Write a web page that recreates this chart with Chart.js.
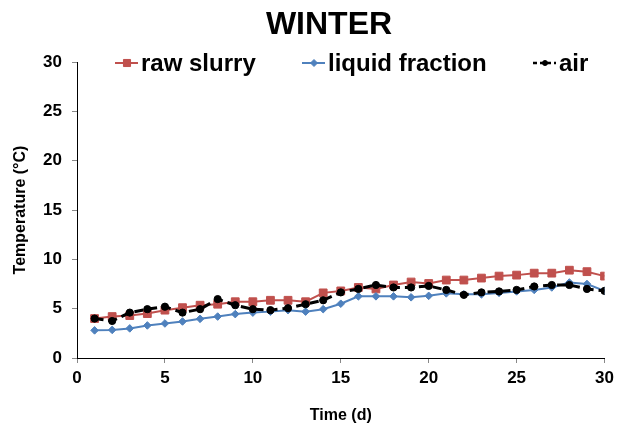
<!DOCTYPE html>
<html>
<head>
<meta charset="utf-8">
<script src="https://cdn.jsdelivr.net/npm/chart.js@4"></script>
<style>
  body { margin: 0; background: #fff; }
  #wrap { width: 619px; height: 425px; }
</style>
</head>
<body>
<div id="wrap"><canvas id="winterChart" width="619" height="425"></canvas></div>
<script>
// days 1..30
const days = [1,2,3,4,5,6,7,8,9,10,11,12,13,14,15,16,17,18,19,20,21,22,23,24,25,26,27,28,29,30];
const rawSlurry = [4.0,4.2,4.3,4.5,4.85,5.1,5.35,5.45,5.7,5.7,5.85,5.85,5.7,6.6,6.8,7.15,7.0,7.4,7.7,7.55,7.9,7.9,8.1,8.3,8.4,8.6,8.6,8.9,8.75,8.3];
const liquidFraction = [2.8,2.85,3.0,3.3,3.5,3.7,3.97,4.2,4.45,4.6,4.7,4.85,4.7,4.95,5.5,6.25,6.25,6.25,6.15,6.3,6.55,6.45,6.45,6.6,6.75,6.9,7.15,7.65,7.5,6.8];
const air = [4.0,3.75,4.6,4.95,5.2,4.6,4.95,5.97,5.35,4.95,4.85,5.05,5.45,5.85,6.65,7.0,7.4,7.15,7.15,7.3,6.9,6.4,6.65,6.75,6.9,7.25,7.4,7.4,7.0,6.8];
const seriesNames = ['raw slurry', 'liquid fraction', 'air'];
const xTicks = [0,5,10,15,20,25,30];
const yTicks = [0,5,10,15,20,25,30];

const RED = '#C0504D';
const BLUE = '#4F81BD';
const FONT = 'Liberation Sans, Arial, sans-serif';

function pts(vals) {
    return vals.map((v, i) => ({ x: days[i], y: v }));
}

// title + Excel-like legend drawn on top
const decorations = {
    id: 'decorations',
    afterDraw(chart) {
        const ctx = chart.ctx;
        ctx.save();
        ctx.fillStyle = '#000';
        ctx.font = 'bold 32px ' + FONT;
        ctx.textAlign = 'center';
        ctx.textBaseline = 'middle';
        ctx.fillText('WINTER', 329, 25);

        const ly = 63;
        const items = [
            { x: 115, color: RED, dash: [], width: 2, style: 'rect', r: 5 },
            { x: 302, color: BLUE, dash: [], width: 2, style: 'rectRot', r: 3.5 },
            { x: 533, color: '#000', dash: [4, 3], width: 2.5, style: 'circle', r: 2.5 }
        ];
        ctx.font = 'bold 24px ' + FONT;
        ctx.textAlign = 'left';
        items.forEach((it, i) => {
            ctx.beginPath();
            ctx.setLineDash(it.dash);
            ctx.strokeStyle = it.color;
            ctx.lineWidth = it.width;
            ctx.moveTo(it.x, ly);
            ctx.lineTo(it.x + 23, ly);
            ctx.stroke();
            ctx.setLineDash([]);
            ctx.fillStyle = it.color;
            ctx.strokeStyle = it.color;
            ctx.lineWidth = 1;
            Chart.helpers.drawPoint(ctx, { pointStyle: it.style, radius: it.r, borderWidth: 1, rotation: 0 }, it.x + 12, ly);
            ctx.fillStyle = '#000';
            ctx.fillText(seriesNames[i], it.x + 26, ly + 1);
        });
        ctx.restore();
    }
};

new Chart(document.getElementById('winterChart'), {
    type: 'line',
    data: {
        datasets: [{
            label: seriesNames[0],
            data: pts(rawSlurry),
            borderColor: RED,
            backgroundColor: RED,
            borderWidth: 2,
            pointStyle: 'rect',
            pointRadius: 5.5,
            pointBorderWidth: 1,
            order: 3
        }, {
            label: seriesNames[1],
            data: pts(liquidFraction),
            borderColor: BLUE,
            backgroundColor: BLUE,
            borderWidth: 2,
            pointStyle: 'rectRot',
            pointRadius: 3.8,
            pointBorderWidth: 1,
            order: 2
        }, {
            label: seriesNames[2],
            data: pts(air),
            borderColor: '#000',
            backgroundColor: '#000',
            borderWidth: 3,
            borderDash: [9, 5],
            pointStyle: 'circle',
            pointRadius: 3.6,
            pointBorderWidth: 1,
            order: 1
        }]
    },
    options: {
        responsive: false,
        animation: false,
        layout: { padding: { top: 62, right: 10, left: 0, bottom: 0 } },
        plugins: {
            legend: { display: false },
            title: { display: false },
            tooltip: { enabled: false }
        },
        scales: {
            x: {
                type: 'linear',
                min: 0,
                max: 30,
                afterFit: s => { s.height = 67; },
                afterBuildTicks: s => { s.ticks = xTicks.map(v => ({ value: v })); },
                grid: { drawOnChartArea: false, drawTicks: true, tickLength: 5, color: '#888' },
                border: { display: true, color: '#000', width: 1 },
                ticks: { color: '#000', font: { family: FONT, size: 17, weight: 'bold' }, padding: 5, maxRotation: 0 },
                title: { display: true, text: 'Time (d)', color: '#000', font: { family: FONT, size: 16, weight: 'bold' }, padding: { top: 0, bottom: 0 } }
            },
            y: {
                min: 0,
                max: 30,
                afterFit: s => { s.width = 77; },
                afterBuildTicks: s => { s.ticks = yTicks.map(v => ({ value: v })); },
                grid: { drawOnChartArea: false, drawTicks: true, tickLength: 5, color: '#888' },
                border: { display: true, color: '#000', width: 1 },
                ticks: { color: '#000', font: { family: FONT, size: 17, weight: 'bold' }, padding: 10 },
                title: { display: true, text: 'Temperature (°C)', color: '#000', font: { family: FONT, size: 16, weight: 'bold' }, padding: { top: 11, bottom: 0 } }
            }
        }
    },
    plugins: [decorations]
});
</script>
</body>
</html>
